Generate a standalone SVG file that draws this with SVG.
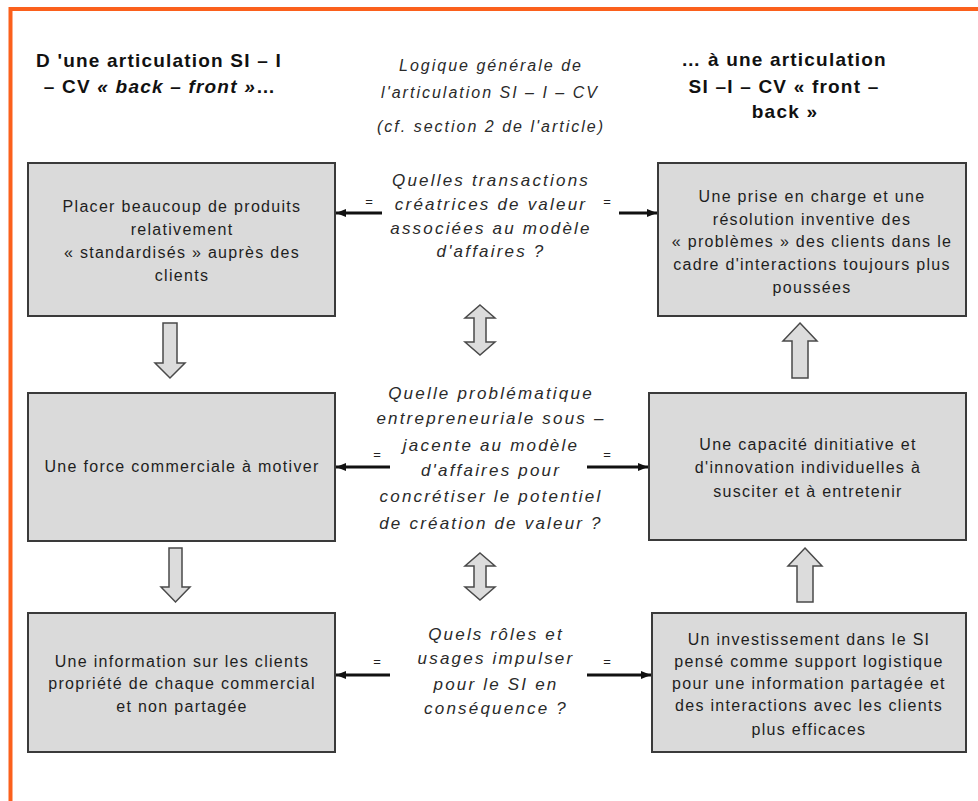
<svg xmlns="http://www.w3.org/2000/svg" width="978" height="801" viewBox="0 0 978 801">
  <style>
    .frame { stroke: #fb601c; stroke-width: 4; fill: none; }
    .box { fill: #dadada; stroke: #3a3a3a; stroke-width: 2; }
    .btxt { font-family: "Liberation Sans", Arial, sans-serif; font-size: 16px; letter-spacing: 1.3px; fill: #1e1e1e; text-anchor: middle; }
    .head { font-family: "Liberation Sans", Arial, sans-serif; font-size: 19px; font-weight: bold; letter-spacing: 1.2px; fill: #111; text-anchor: middle; }
    .mid { font-family: "Liberation Sans", Arial, sans-serif; font-size: 16px; font-style: italic; letter-spacing: 2px; fill: #2a2a2a; text-anchor: middle; }
    .q { font-family: "Liberation Sans", Arial, sans-serif; font-size: 17px; font-style: italic; letter-spacing: 2.2px; fill: #2a2a2a; text-anchor: middle; }
    .eq { font-family: "Liberation Sans", Arial, sans-serif; font-size: 13px; fill: #222; text-anchor: middle; }
    .link { stroke: #111; stroke-width: 3; fill: none; marker-end: url(#tip); }
    .block { fill: #dcdcdc; stroke: #4a4a4a; stroke-width: 1.5; stroke-linejoin: miter; }
  </style>
  <defs>
    <marker id="tip" markerUnits="userSpaceOnUse" markerWidth="10" markerHeight="8" refX="10" refY="4" orient="auto">
      <path d="M0,0 L10,4 L0,8 Z" fill="#111"/>
    </marker>
  </defs>

  <rect width="978" height="801" fill="#ffffff"/>
  <!-- orange frame: top and left edges -->
  <path class="frame" d="M10.5,801 V9 H978"/>

  <!-- column headings -->
  <g id="heading-left">
    <text class="head" x="159" y="67">D 'une articulation SI – I</text>
    <text class="head" x="160" y="93">– CV <tspan font-style="italic">« back – front »</tspan>…</text>
  </g>
  <g id="heading-center">
    <text class="mid" x="491" y="71">Logique générale de</text>
    <text class="mid" x="490" y="98">l'articulation SI – I – CV</text>
    <text class="mid" x="491" y="132">(cf. section 2 de l'article)</text>
  </g>
  <g id="heading-right">
    <text class="head" x="784" y="66">… à une articulation</text>
    <text class="head" x="784" y="93">SI –I – CV « front –</text>
    <text class="head" x="785" y="118">back »</text>
  </g>

  <!-- left column -->
  <g id="box-products">
    <rect class="box" x="28" y="163" width="307" height="153"/>
    <text class="btxt" x="182" y="212">Placer beaucoup de produits</text>
    <text class="btxt" x="182" y="235">relativement</text>
    <text class="btxt" x="182" y="258">« standardisés » auprès des</text>
    <text class="btxt" x="182" y="281">clients</text>
  </g>
  <g id="box-salesforce">
    <rect class="box" x="28" y="393" width="307" height="148"/>
    <text class="btxt" x="182" y="472">Une force commerciale à motiver</text>
  </g>
  <g id="box-info-private">
    <rect class="box" x="28" y="613" width="307" height="139"/>
    <text class="btxt" x="182" y="667">Une information sur les clients</text>
    <text class="btxt" x="182" y="689">propriété de chaque commercial</text>
    <text class="btxt" x="182" y="712">et non partagée</text>
  </g>

  <!-- right column -->
  <g id="box-problems">
    <rect class="box" x="658" y="163" width="308" height="153"/>
    <text class="btxt" x="812" y="202">Une prise en charge et une</text>
    <text class="btxt" x="812" y="225">résolution inventive des</text>
    <text class="btxt" x="812" y="247">« problèmes » des clients dans le</text>
    <text class="btxt" x="812" y="270">cadre d'interactions toujours plus</text>
    <text class="btxt" x="812" y="293">poussées</text>
  </g>
  <g id="box-initiative">
    <rect class="box" x="649" y="393" width="317" height="147"/>
    <text class="btxt" x="808" y="450">Une capacité dinitiative et</text>
    <text class="btxt" x="808" y="473">d'innovation individuelles à</text>
    <text class="btxt" x="808" y="497">susciter et à entretenir</text>
  </g>
  <g id="box-investment">
    <rect class="box" x="652" y="613" width="314" height="139"/>
    <text class="btxt" x="809" y="645">Un investissement dans le SI</text>
    <text class="btxt" x="809" y="667">pensé comme support logistique</text>
    <text class="btxt" x="809" y="689">pour une information partagée et</text>
    <text class="btxt" x="809" y="711">des interactions avec les clients</text>
    <text class="btxt" x="809" y="735">plus efficaces</text>
  </g>

  <!-- central questions -->
  <g id="question-transactions">
    <text class="q" x="491" y="186">Quelles transactions</text>
    <text class="q" x="491" y="210">créatrices de valeur</text>
    <text class="q" x="491" y="234">associées au modèle</text>
    <text class="q" x="491" y="257">d'affaires ?</text>
  </g>
  <g id="question-entrepreneurial">
    <text class="q" x="491" y="399">Quelle problématique</text>
    <text class="q" x="491" y="424">entrepreneuriale sous –</text>
    <text class="q" x="491" y="451">jacente au modèle</text>
    <text class="q" x="491" y="476">d'affaires pour</text>
    <text class="q" x="491" y="502">concrétiser le potentiel</text>
    <text class="q" x="491" y="529">de création de valeur ?</text>
  </g>
  <g id="question-roles">
    <text class="q" x="496" y="640">Quels rôles et</text>
    <text class="q" x="496" y="664">usages impulser</text>
    <text class="q" x="496" y="690">pour le SI en</text>
    <text class="q" x="496" y="714">conséquence ?</text>
  </g>

  <!-- connectors -->
  <g id="connectors">
    <line class="link" x1="382" y1="213" x2="336" y2="213"/>
    <line class="link" x1="619" y1="213" x2="657" y2="213"/>
    <line class="link" x1="390" y1="467" x2="336" y2="467"/>
    <line class="link" x1="587" y1="467" x2="648" y2="467"/>
    <line class="link" x1="390" y1="675" x2="336" y2="675"/>
    <line class="link" x1="587" y1="675" x2="651" y2="675"/>

    <text class="eq" x="369" y="206">=</text>
    <text class="eq" x="607" y="206">=</text>
    <text class="eq" x="377" y="459">=</text>
    <text class="eq" x="607" y="459">=</text>
    <text class="eq" x="377" y="666">=</text>
    <text class="eq" x="607" y="666">=</text>

    <!-- block arrows between rows -->
    <path class="block" d="M163,323 H177 V363 H185 L170,378 L155,363 H163 Z"/>
    <path class="block" d="M169,548 H182 V587 H190 L175.5,602 L161,587 H169 Z"/>
    <path class="block" d="M800,323 L817,341 H808 V378 H792 V341 H783 Z"/>
    <path class="block" d="M805,548 L822,566 H813 V602 H797 V566 H788 Z"/>
    <path class="block" d="M480,305 L495,318 H486 V342 H495 L480,355 L465,342 H474 V318 H465 Z"/>
    <path class="block" d="M480,553 L495,566 H486 V587 H495 L480,600 L465,587 H474 V566 H465 Z"/>
  </g>
</svg>
